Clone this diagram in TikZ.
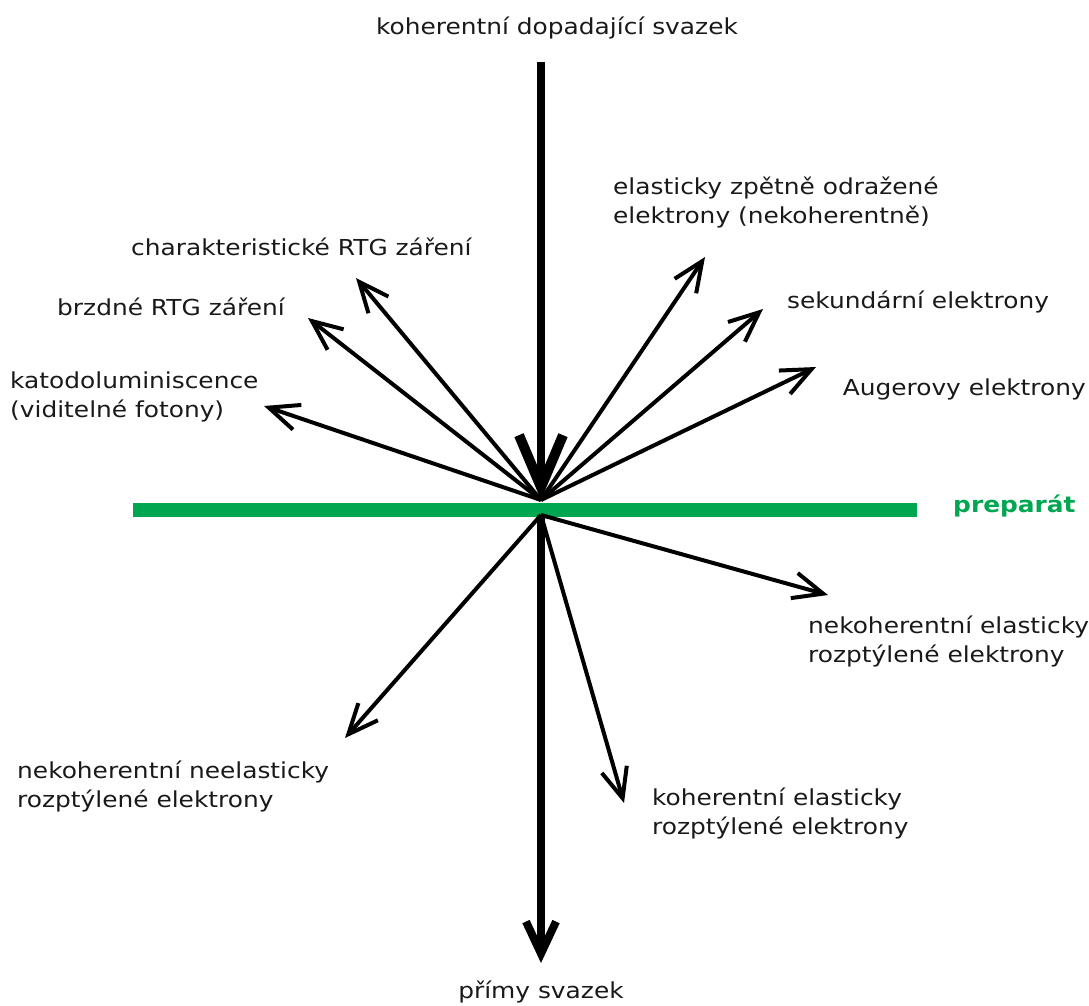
\documentclass[tikz,border=0pt]{standalone}
\usepackage{fontspec}
\setmainfont[FakeStretch=1.13]{DejaVu Sans}
\usetikzlibrary{arrows.meta}
\definecolor{prepgreen}{RGB}{0,166,80}
\begin{document}
\begin{tikzpicture}[x=1pt,y=-1pt,
  lbl/.style={font=\fontsize{22}{29}\selectfont, inner sep=0pt, align=left, text=black!90},
  thinarrow/.style={line width=4pt, -{Straight Barb[length=30pt,width=26pt,line width=4pt]}},
  thickin/.style={line width=8pt, -{Straight Barb[length=52pt,width=44pt,line width=10pt]}},
  thickout/.style={line width=8pt, -{Straight Barb[length=32pt,width=30pt,line width=8pt]}}]
\useasboundingbox (0,0) rectangle (1089,1005);
% sample surface
\draw[prepgreen, line width=14pt] (133,510) -- (917,510);
\node[lbl, anchor=west, font=\fontsize{22}{29}\selectfont\bfseries, text=prepgreen] (prep) at (953,506) {preparát};
% centre points
\coordinate (o) at (541,500);
\coordinate (ob) at (541,515);
\coordinate (src) at (541,62);
\coordinate (end) at (541,963);
% tips
\coordinate (tchar) at (356,278);
\coordinate (tbrz) at (308,318);
\coordinate (tkat) at (264,406);
\coordinate (tel) at (705,257);
\coordinate (tsek) at (763,309);
\coordinate (taug) at (816,367);
\coordinate (tnel) at (828,595);
\coordinate (tnee) at (345,738);
\coordinate (tkoh) at (624,803);
% arrows
\draw[thickin] (src) -- (o);
\draw[thickout] (ob) -- (end);
\foreach \t in {tchar,tbrz,tkat,tel,tsek,taug}{\draw[thinarrow] (o) -- (\t);}
\foreach \t in {tnel,tnee,tkoh}{\draw[thinarrow] (ob) -- (\t);}
% labels
\node[lbl] (lin) at (557,28) {koherentní dopadající svazek};
\node[lbl] (lout) at (541,992) {přímy svazek};
\node[lbl, anchor=west] (lel) at (613,202) {elasticky zpětně odražené\\elektrony (nekoherentně)};
\node[lbl, anchor=west] (lchar) at (131,247) {charakteristické RTG záření};
\node[lbl, anchor=west] (lbrz) at (57,307) {brzdné RTG záření};
\node[lbl, anchor=west] (lkat) at (10,397) {katodoluminiscence\\(viditelné fotony)};
\node[lbl, anchor=west] (lsek) at (787,302) {sekundární elektrony};
\node[lbl, anchor=east] (laug) at (1086,389) {Augerovy elektrony};
\node[lbl, anchor=west] (lnel) at (808,641) {nekoherentní elasticky\\rozptýlené elektrony};
\node[lbl, anchor=west] (lnee) at (17,786) {nekoherentní neelasticky\\rozptýlené elektrony};
\node[lbl, anchor=west] (lkoh) at (652,813) {koherentní elasticky\\rozptýlené elektrony};
\end{tikzpicture}
\end{document}
